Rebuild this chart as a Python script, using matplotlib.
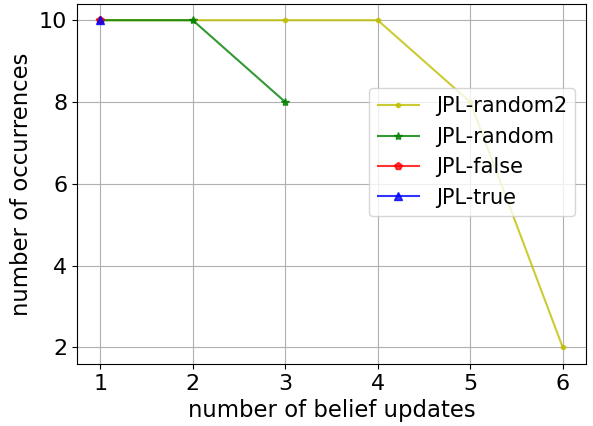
import matplotlib
matplotlib.use('Agg')
import matplotlib.pyplot as plt

# data
x_random2 = [1, 2, 3, 4, 5, 6]
y_random2 = [10, 10, 10, 10, 8, 2]
x_random = [1, 2, 3]
y_random = [10, 10, 8]
x_false = [1]
y_false = [10]
x_true = [1]
y_true = [10]

fig, ax = plt.subplots(figsize=(5.93, 4.26), dpi=100)

ax.plot(x_random2, y_random2, color='y', marker='.', alpha=0.8, label='JPL-random2')
ax.plot(x_random, y_random, color='g', marker='*', alpha=0.8, label='JPL-random')
ax.plot(x_false, y_false, color='r', marker='p', alpha=0.8, label='JPL-false')
ax.plot(x_true, y_true, color='b', marker='^', alpha=0.8, label='JPL-true')

ax.set_xlabel('number of belief updates', fontsize=16.4)
ax.set_ylabel('number of occurrences', fontsize=16.4)
ax.tick_params(labelsize=16)
ax.set_xticks([1, 2, 3, 4, 5, 6])
ax.set_yticks([2, 4, 6, 8, 10])
ax.grid(True)
ax.legend(fontsize=15, loc='upper right', bbox_to_anchor=(1.0, 0.795))

fig.subplots_adjust(left=0.130, right=0.988, top=0.991, bottom=0.146)
plt.savefig('out.png', dpi=100)
plt.close()
